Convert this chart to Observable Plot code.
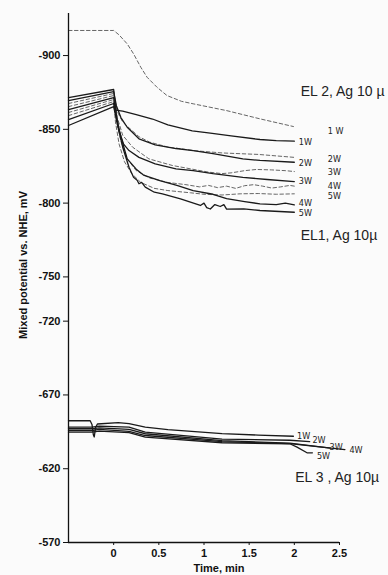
<!DOCTYPE html>
<html><head><meta charset="utf-8">
<script src="https://cdn.jsdelivr.net/npm/d3@7"></script>
<script src="https://cdn.jsdelivr.net/npm/@observablehq/plot@0.6"></script>
<style>body{margin:0;background:#fbfbfb}</style>
</head><body><div id="chart"></div>
<script>
// Tick values
const yTicks = [-900, -850, -800, -750, -720, -670, -620, -570];
const xTicks = [0, 0.5, 1, 1.5, 2, 2.5];

// EL1, Ag 10µ (solid) — [time min, potential mV]
const el1_1W = [[-0.5,-863.4],[0,-871.5],[0.02,-863],[0.1,-862.3],[0.25,-860],[0.43,-857],[0.6,-853],[0.87,-849],[1.07,-847.5],[1.3,-845.5],[1.62,-843.1],[1.8,-842.3],[2.0,-842]];
const el1_2W = [[-0.5,-869.5],[0,-875.6],[0.03,-866],[0.08,-858],[0.15,-851.4],[0.28,-843.6],[0.46,-839.5],[0.69,-837],[0.88,-835.5],[1.1,-833.5],[1.43,-830],[1.62,-828.9],[2.0,-827.7]];
const el1_3W = [[-0.5,-871.5],[0,-877],[0.03,-860],[0.06,-849],[0.11,-840],[0.17,-835.6],[0.28,-831],[0.46,-826.6],[0.69,-823.2],[0.88,-822],[1.1,-820],[1.43,-817.5],[1.7,-816],[2.0,-814.6]];
const el1_4W = [[-0.5,-856.6],[0,-867.5],[0.03,-858],[0.08,-845],[0.15,-830],[0.25,-823],[0.33,-819],[0.52,-815],[0.7,-812],[0.88,-808.5],[1.1,-806],[1.25,-803],[1.45,-801],[1.62,-799.5],[1.8,-799],[1.9,-800],[2.0,-798.8]];
const el1_5W = [[-0.5,-852.6],[0,-865.4],[0.02,-860],[0.04,-853.7],[0.1,-837.9],[0.17,-824.3],[0.22,-817.5],[0.26,-815.5],[0.28,-813.1],[0.31,-814],[0.35,-810.8],[0.45,-807.4],[0.54,-806.3],[0.74,-802.9],[0.96,-798.4],[1.0,-800],[1.03,-797],[1.07,-796],[1.12,-799],[1.18,-797.7],[1.22,-799],[1.25,-795.9],[1.44,-796.1],[1.62,-795],[2.0,-793.8]];

// EL2, Ag 10µ (dashed)
const el2_1W = [[-0.5,-917],[0,-917],[0.06,-914],[0.15,-907.9],[0.22,-901.2],[0.3,-892.1],[0.37,-885.3],[0.48,-878.5],[0.59,-872.9],[0.75,-869],[0.88,-867.3],[1.25,-862.7],[1.62,-857.1],[1.99,-851.9]];
const el2_2W = [[-0.5,-867.5],[0,-874.3],[0.04,-862],[0.1,-855],[0.17,-851],[0.28,-845],[0.4,-841.3],[0.6,-838],[0.9,-835.5],[1.2,-834],[1.6,-833],[2.0,-831]];
const el2_3W = [[-0.5,-865.4],[0,-872.9],[0.04,-858],[0.1,-846],[0.21,-837.9],[0.39,-830],[0.65,-825.5],[0.87,-823],[1.05,-821],[1.2,-820],[1.3,-820.5],[1.45,-822],[1.58,-822.8],[1.75,-822.5],[1.9,-822],[2.0,-821.4]];
const el2_4W = [[-0.5,-861.4],[0,-870.2],[0.03,-856],[0.08,-842],[0.15,-830],[0.25,-822],[0.4,-817],[0.6,-814],[0.8,-812.5],[0.95,-811],[1.05,-812],[1.15,-810.5],[1.25,-811.5],[1.35,-810],[1.45,-811.8],[1.55,-812.5],[1.65,-811.5],[1.75,-810.2],[1.85,-811],[1.95,-812],[2.0,-811.5]];
const el2_5W = [[-0.5,-859.3],[0,-868.8],[0.02,-855],[0.06,-840],[0.12,-828],[0.2,-820],[0.3,-814],[0.45,-810],[0.6,-808.5],[0.85,-807],[1.0,-806],[1.2,-805.5],[1.4,-806.3],[1.6,-806.5],[1.8,-806],[2.0,-806.3]];

// EL3, Ag 10µ (solid)
const el3_1W = [[-0.5,-652.5],[-0.26,-652.5],[-0.24,-650],[-0.225,-643],[-0.215,-641.5],[-0.2,-648],[-0.18,-650.3],[0.05,-651.3],[0.17,-650.5],[0.35,-648.2],[0.6,-646.5],[1.2,-643.8],[1.6,-642.8],[1.99,-642]];
const el3_2W = [[-0.5,-648.2],[-0.24,-648.2],[-0.16,-648.8],[0.17,-648.2],[0.35,-644.8],[1.2,-640.1],[1.95,-639.3],[2.17,-638.3]];
const el3_3W = [[-0.5,-647.1],[-0.24,-647.1],[-0.16,-647.7],[0.17,-646.6],[0.35,-643.7],[1.2,-639],[1.95,-637.4],[2.4,-634]];
const el3_4W = [[-0.5,-645.9],[-0.24,-645.9],[-0.16,-646.6],[0.17,-645.3],[0.35,-642.5],[1.2,-638.3],[1.95,-637],[2.56,-633]];
const el3_5W = [[-0.5,-644.8],[-0.24,-644.8],[-0.16,-645.5],[0.17,-644.4],[0.35,-641.4],[1.2,-637.6],[1.95,-636.9],[2.03,-634.6],[2.14,-630.8],[2.2,-630.8]];

const series = [
  {id:"EL1 1W", pts:el1_1W, dashed:false},{id:"EL1 2W", pts:el1_2W, dashed:false},
  {id:"EL1 3W", pts:el1_3W, dashed:false},{id:"EL1 4W", pts:el1_4W, dashed:false},
  {id:"EL1 5W", pts:el1_5W, dashed:false},
  {id:"EL2 1W", pts:el2_1W, dashed:true},{id:"EL2 2W", pts:el2_2W, dashed:true},
  {id:"EL2 3W", pts:el2_3W, dashed:true},{id:"EL2 4W", pts:el2_4W, dashed:true},
  {id:"EL2 5W", pts:el2_5W, dashed:true},
  {id:"EL3 1W", pts:el3_1W, dashed:false},{id:"EL3 2W", pts:el3_2W, dashed:false},
  {id:"EL3 3W", pts:el3_3W, dashed:false},{id:"EL3 4W", pts:el3_4W, dashed:false},
  {id:"EL3 5W", pts:el3_5W, dashed:false}
];
const rows = series.flatMap(s => s.pts.map(([t, v]) => ({t, v, id: s.id, dashed: s.dashed})));

// Curve labels [text, time, mV]
const wLabels = [
  ["1W",2.05,-841.3],["2W",2.05,-827.3],["3W",2.05,-814.6],["4W",2.05,-800.3],["5W",2.05,-793],
  ["1 W",2.37,-848.7],["2W",2.37,-829.5],["3W",2.37,-820.9],["4W",2.37,-811.8],["5W",2.37,-804.6],
  ["1W",2.03,-642.1],["2W",2.2,-639.2],["3W",2.39,-634.7],["4W",2.61,-632.9],["5W",2.25,-628.5]
];
const groupLabels = [
  ["EL 2, Ag 10 µ",2.07,-875.8],
  ["EL1, Ag 10µ",2.07,-778],
  ["EL 3 , Ag 10µ",2.01,-614.1]
];

const font = "'Liberation Sans', Arial, sans-serif";
const narrow = "'Liberation Sans Narrow', 'DejaVu Sans Condensed', 'Liberation Sans', sans-serif";

const chart = Plot.plot({
  width: 388, height: 575,
  marginLeft: 68, marginTop: 13, marginBottom: 33, marginRight: 49,
  style: {fontFamily: font, background: "#fbfbfb", color: "#111"},
  x: {domain: [-0.5, 2.5]},
  y: {domain: [-570, -928.5]},
  marks: [
    Plot.line(rows.filter(d => d.dashed), {x:"t", y:"v", z:"id", stroke:"#666", strokeWidth:1, strokeDasharray:"3.5,2.5"}),
    Plot.line(rows.filter(d => !d.dashed), {x:"t", y:"v", z:"id", stroke:"#1a1a1a", strokeWidth:1.3}),
    Plot.ruleX([-0.5], {y1:-928.5, y2:-570, stroke:"#111", strokeWidth:1.3}),
    Plot.ruleY([-570], {x1:-0.5, x2:2.5, stroke:"#111", strokeWidth:1.3}),
    Plot.axisY(yTicks, {tickSize:5, tickPadding:3, fontSize:11, fontWeight:"bold", tickFormat:d => String(d), label:null, stroke:"#111"}),
    Plot.axisX(xTicks, {tickSize:3, tickPadding:4, fontSize:11, fontWeight:"bold", tickFormat:d => String(d), label:null, stroke:"#111"}),
    Plot.text(wLabels, {x:d => d[1], y:d => d[2], text:d => d[0], textAnchor:"start", lineAnchor:"middle", fontSize:9, fontFamily:narrow, fill:"#222"}),
    Plot.text(groupLabels, {x:d => d[1], y:d => d[2], text:d => d[0], textAnchor:"start", lineAnchor:"middle", fontSize:14, fill:"#222"}),
    Plot.text(["Mixed potential vs. NHE, mV"], {frameAnchor:"left", textAnchor:"middle", dx:-45, dy:-13, rotate:-90, fontSize:11, fontWeight:"bold", fill:"#111"}),
    Plot.text(["Time, min"], {frameAnchor:"bottom", textAnchor:"middle", dx:15, dy:29, fontSize:11, fontWeight:"bold", fill:"#111"})
  ]
});
document.getElementById("chart").appendChild(chart);
</script>
</body></html>
